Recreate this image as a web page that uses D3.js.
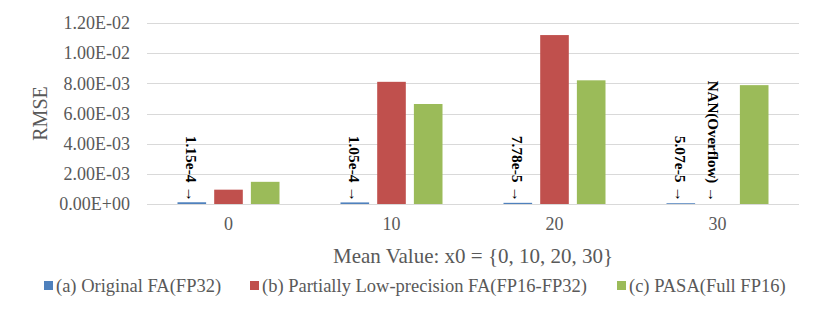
<!DOCTYPE html>
<html>
<head>
<meta charset="utf-8">
<script src="https://cdn.jsdelivr.net/npm/d3@7"></script>
<style>
    body { margin: 0; background: #fff; }
    svg { font-family: "Liberation Serif", "Times New Roman", serif; }
</style>
</head>
<body>
<svg id="chart" width="822" height="314"></svg>
<script>
// chart data
const categories = ["0", "10", "20", "30"];
const seriesNames = ["(a) Original FA(FP32)", "(b) Partially Low-precision FA(FP16-FP32)", "(c) PASA(Full FP16)"];
const original = [1.15e-4, 1.05e-4, 7.78e-5, 5.07e-5];
const partial = [9.5e-4, 8.1e-3, 1.12e-2, null];   // null = NAN (overflow)
const pasa = [1.47e-3, 6.63e-3, 8.2e-3, 7.88e-3];
const yTicks = [0, 0.002, 0.004, 0.006, 0.008, 0.010, 0.012];
const yTickLabels = ["0.00E+00", "2.00E-03", "4.00E-03", "6.00E-03", "8.00E-03", "1.00E-02", "1.20E-02"];
const notes = [
    {cat: "0", series: 0, text: "1.15e-4 \u2192"},
    {cat: "10", series: 0, text: "1.05e-4 \u2192"},
    {cat: "20", series: 0, text: "7.78e-5 \u2192"},
    {cat: "30", series: 0, text: "5.07e-5 \u2192"},
    {cat: "30", series: 1, text: "NAN(Overflow) \u2192"}
];
const colors = ["#4f81bd", "#c0504d", "#9bbb59"];

const svg = d3.select("#chart");
const margin = {left: 147, right: 23, top: 23, bottom: 110};
const width = 822 - margin.left - margin.right;
const height = 314 - margin.top - margin.bottom;

const g = svg.append("g").attr("transform", `translate(${margin.left},${margin.top})`);

const x = d3.scaleBand().domain(categories).range([0, width]);
const xs = d3.scaleBand().domain(d3.range(3)).range([x.bandwidth() / 2 - 51, x.bandwidth() / 2 + 51]).paddingInner(0.22);
const y = d3.scaleLinear().domain([0, 0.012]).range([height, 0]);

// gridlines
g.append("g")
    .selectAll("line")
    .data(yTicks)
    .join("line")
    .attr("x1", 0).attr("x2", width)
    .attr("y1", d => Math.round(y(d)) + 0.5).attr("y2", d => Math.round(y(d)) + 0.5)
    .attr("stroke", "#d9d9d9")
    .attr("stroke-width", 1.2);

// y axis labels
const yAxis = g.append("g")
    .attr("transform", "translate(-17,0)")
    .call(d3.axisLeft(y).tickValues(yTicks).tickFormat((d, i) => yTickLabels[i]).tickSize(0).tickPadding(0));
yAxis.select(".domain").remove();
yAxis.selectAll("text")
    .attr("font-family", "Liberation Serif")
    .attr("font-size", 18)
    .attr("fill", "#595959");

// x axis labels
const xAxis = g.append("g")
    .attr("transform", `translate(0,${height})`)
    .call(d3.axisBottom(x).tickSize(0).tickPadding(13));
xAxis.select(".domain").remove();
xAxis.selectAll("text")
    .attr("font-family", "Liberation Serif")
    .attr("font-size", 18)
    .attr("fill", "#595959");

// bars
const allSeries = [original, partial, pasa];
const barData = [];
categories.forEach((c, ci) => {
    allSeries.forEach((s, si) => {
        if (s[ci] != null) barData.push({cat: c, series: si, value: s[ci]});
    });
});

g.append("g")
    .selectAll("rect")
    .data(barData)
    .join("rect")
    .attr("x", d => x(d.cat) + xs(d.series))
    .attr("width", xs.bandwidth())
    .attr("y", d => y(d.value))
    .attr("height", d => y(0) - y(d.value))
    .attr("fill", d => colors[d.series]);

// rotated annotations
g.append("g")
    .selectAll("text")
    .data(notes)
    .join("text")
    .attr("transform", d => {
        let cx = x(d.cat) + xs(d.series) + xs.bandwidth() / 2;
        if (d.series == 1) cx -= 5;
        return `translate(${cx},${y(0) - 2}) rotate(90)`;
    })
    .attr("text-anchor", "end")
    .attr("dominant-baseline", "central")
    .attr("font-size", d => d.series == 1 ? 15 : 15.5)
    .attr("font-weight", "bold")
    .attr("fill", "#000")
    .text(d => d.text);

// axis titles
svg.append("text")
    .attr("transform", `translate(47,${margin.top + height / 2}) rotate(-90)`)
    .attr("text-anchor", "middle")
    .attr("font-size", 20)
    .attr("fill", "#595959")
    .text("RMSE");

svg.append("text")
    .attr("x", margin.left + width / 2)
    .attr("y", 263)
    .attr("text-anchor", "middle")
    .attr("font-size", 21)
    .attr("fill", "#595959")
    .text("Mean Value: x0 = {0, 10, 20, 30}");

// legend
const legendX = [44, 250, 617];
const legend = svg.append("g")
    .selectAll("g")
    .data(seriesNames)
    .join("g")
    .attr("transform", (d, i) => `translate(${legendX[i]},286)`);
legend.append("rect")
    .attr("x", 0).attr("y", -5)
    .attr("width", 9).attr("height", 9)
    .attr("fill", (d, i) => colors[i]);
legend.append("text")
    .attr("x", 12)
    .attr("dominant-baseline", "central")
    .attr("font-size", 18.5)
    .attr("fill", "#595959")
    .text(d => d);
</script>
</body>
</html>
